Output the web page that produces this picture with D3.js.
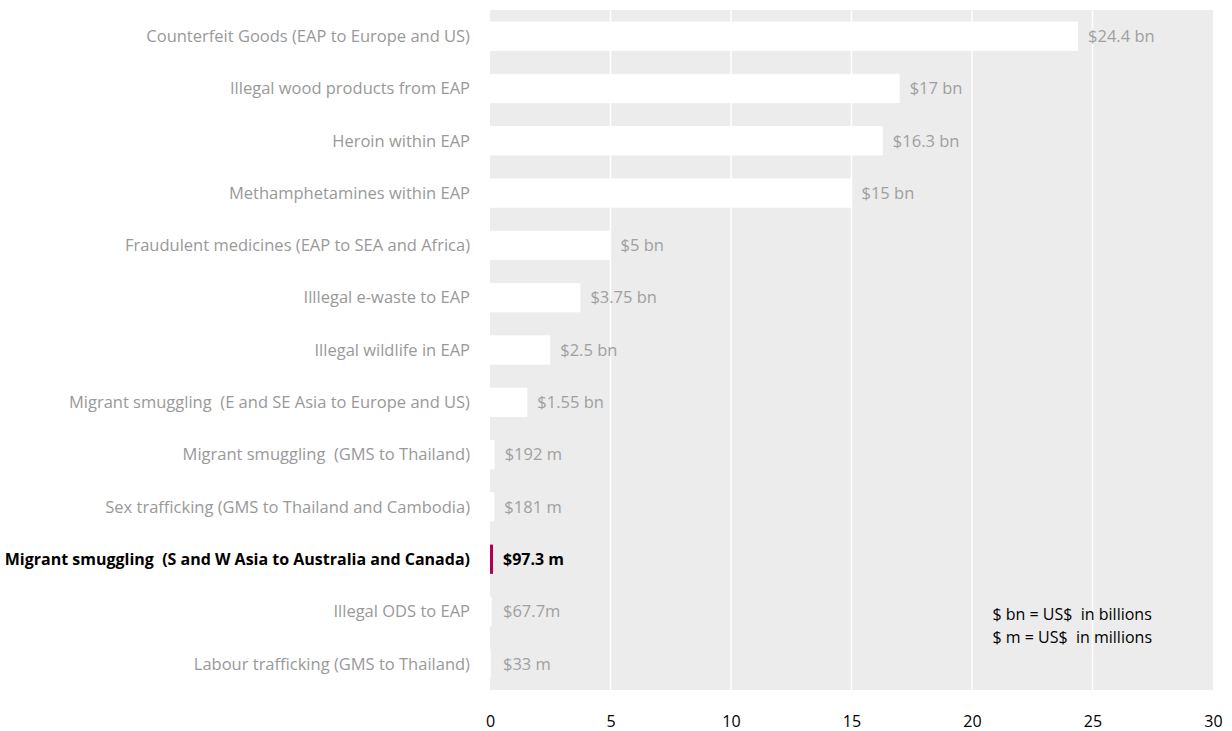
<!DOCTYPE html>
<html>
<head>
<meta charset="utf-8">
<script src="https://cdn.jsdelivr.net/npm/d3@7"></script>
<style>
  body { margin: 0; background: #fff; }
  text { font-family: "Open Sans", Lato, sans-serif; }
</style>
</head>
<body>
<div id="chart"></div>
<script>
var categories = [
  "Counterfeit Goods (EAP to Europe and US)",
  "Illegal wood products from EAP",
  "Heroin within EAP",
  "Methamphetamines within EAP",
  "Fraudulent medicines (EAP to SEA and Africa)",
  "Illlegal e-waste to EAP",
  "Illegal wildlife in EAP",
  "Migrant smuggling  (E and SE Asia to Europe and US)",
  "Migrant smuggling  (GMS to Thailand)",
  "Sex trafficking (GMS to Thailand and Cambodia)",
  "Migrant smuggling  (S and W Asia to Australia and Canada)",
  "Illegal ODS to EAP",
  "Labour trafficking (GMS to Thailand)"
];
var values = [24.4, 17, 16.3, 15, 5, 3.75, 2.5, 1.55, 0.192, 0.181, 0.0973, 0.0677, 0.033];
var valueLabels = ["$24.4 bn", "$17 bn", "$16.3 bn", "$15 bn", "$5 bn", "$3.75 bn", "$2.5 bn",
  "$1.55 bn", "$192 m", "$181 m", "$97.3 m", "$67.7m", "$33 m"];
var highlight = "Migrant smuggling  (S and W Asia to Australia and Canada)";
var xTicks = [0, 5, 10, 15, 20, 25, 30];
var notes = ["$ bn = US$  in billions", "$ m = US$  in millions"];

var W = 1232, H = 731,
    margin = {top: 10, right: 19, bottom: 41, left: 490},
    width = W - margin.left - margin.right,
    height = H - margin.top - margin.bottom;

var svg = d3.select("#chart").append("svg")
    .attr("width", W)
    .attr("height", H);

var g = svg.append("g")
    .attr("transform", "translate(" + margin.left + "," + margin.top + ")");

var x = d3.scaleLinear().domain([0, 30]).range([0, width]);
var y = d3.scaleBand().domain(categories).range([0, height]).paddingInner(0.44).paddingOuter(0.22);

// plot background
g.append("rect")
    .attr("width", width)
    .attr("height", height)
    .style("fill", "#ececec");

// gridlines
g.append("g").selectAll("line")
    .data(xTicks.filter(function(d) { return d > 0 && d < 30; }))
  .enter().append("line")
    .attr("x1", function(d) { return x(d); })
    .attr("x2", function(d) { return x(d); })
    .attr("y1", 0)
    .attr("y2", height)
    .style("stroke", "#fff")
    .style("stroke-width", 1.5);

// bars
g.append("g").selectAll("rect")
    .data(categories)
  .enter().append("rect")
    .attr("x", 0)
    .attr("y", function(d) { return y(d); })
    .attr("height", y.bandwidth())
    .attr("width", function(d, i) {
      return d === highlight ? Math.max(3, x(values[i])) : x(values[i]);
    })
    .style("fill", function(d) { return d === highlight ? "#b0004f" : "#fff"; });

// value labels
g.append("g").selectAll("text")
    .data(categories)
  .enter().append("text")
    .attr("x", function(d, i) { return Math.max(x(values[i]), 3) + 10; })
    .attr("y", function(d) { return y(d) + y.bandwidth() / 2; })
    .attr("dy", "0.35em")
    .style("font-size", function(d) { return d === highlight ? "16px" : "16.5px"; })
    .style("font-weight", function(d) { return d === highlight ? "bold" : "normal"; })
    .style("fill", function(d) { return d === highlight ? "#000" : "#a0a0a0"; })
    .text(function(d, i) { return valueLabels[i]; });

// category labels
g.append("g").selectAll("text")
    .data(categories)
  .enter().append("text")
    .attr("x", -20)
    .attr("y", function(d) { return y(d) + y.bandwidth() / 2; })
    .attr("dy", "0.35em")
    .style("text-anchor", "end")
    .style("font-size", function(d) { return d === highlight ? "16px" : "16.5px"; })
    .style("white-space", "pre")
    .style("font-weight", function(d) { return d === highlight ? "bold" : "normal"; })
    .style("fill", function(d) { return d === highlight ? "#000" : "#999"; })
    .text(function(d) { return d; });

// x axis
var xAxis = g.append("g")
    .attr("transform", "translate(0," + height + ")")
    .call(d3.axisBottom(x).tickValues(xTicks).tickSize(0));
xAxis.select(".domain").remove();
xAxis.selectAll("text")
    .attr("y", 37)
    .attr("dy", 0)
    .style("font-size", "16px")
    .style("fill", "#000")
    .style("font-family", "'Open Sans', Lato, sans-serif");

// notes
g.append("g").selectAll("text")
    .data(notes)
  .enter().append("text")
    .attr("x", x(20.85))
    .attr("y", function(d, i) { return 604 + i * 23; })
    .attr("dy", "0.35em")
    .style("font-size", "16px")
    .style("white-space", "pre")
    .style("fill", "#000")
    .text(function(d) { return d; });
</script>
</body>
</html>
